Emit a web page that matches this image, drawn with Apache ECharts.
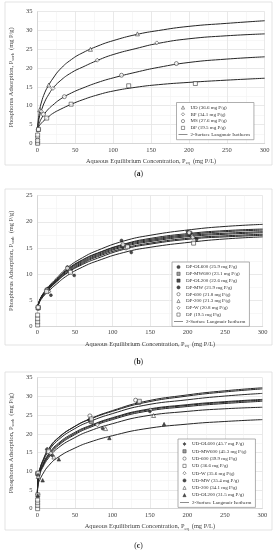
<!DOCTYPE html>
<html><head><meta charset="utf-8">
<script src="https://cdn.jsdelivr.net/npm/echarts@6/dist/echarts.min.js"></script>
<style>
body{margin:0;background:#fff;width:277px;height:550px;overflow:hidden;position:relative}
.p{position:absolute;left:0;width:277px}
</style></head>
<body>
<div id="pa" class="p" style="top:0;height:178px"></div>
<div id="pb" class="p" style="top:178px;height:188px"></div>
<div id="pc" class="p" style="top:366px;height:184px"></div>
<script>
// ---------- Panel (a) ----------
const aCurveX = [0,1,3,5,10,15,20,30,45,60,80,100,130,160,200,250,300];
const aCurveUD = [3.7,6.0,8.8,10.7,13.6,15.5,17.1,19.7,22.3,24.1,25.9,27.3,28.9,30.0,31.1,31.9,32.6];
const aCurveBP = [3.7,5.2,7.3,8.6,11.2,13.0,14.5,16.6,18.8,20.3,22.1,23.6,25.2,26.6,27.8,28.6,29.1];
const aCurveMS = [3.7,4.4,5.6,6.5,8.0,9.2,10.1,11.7,13.4,14.7,16.2,17.4,18.9,20.2,21.5,22.4,23.0];
const aCurveDP = [3.7,4.1,4.8,5.3,6.3,7.1,7.9,9.0,10.4,11.6,12.9,13.9,14.9,15.6,16.2,16.8,17.3];
const aPtsUD = [[0.3,0.3],[1,3.7],[3,8.9],[15,15.5],[70,25.0],[132,29.1]];
const aPtsBP = [[0.3,1.0],[1.5,3.8],[5,8.5],[20.5,14.6],[79,22.1],[157.6,26.7]];
const aPtsMS = [[0.3,1.6],[1,3.6],[8,7.7],[35.6,12.4],[111,18.1],[183.4,21.2]];
const aPtsDP = [[0.3,0],[0.3,0.7],[0.3,2.2],[1.5,3.7],[12.3,6.7],[44.5,10.4],[120.5,15.3],[208.5,15.9]];
const aNames = ['UD (36.6 mg P/g)','BP (34.1 mg P/g)','MS (27.6 mg P/g)','DP (19.5 mg P/g)'];

// ---------- Panel (b) ----------
const bCurveX = [0,2,5,10,15,25,40,60,80,115,150,205,250,300];
const bCurveOL600 = [3.6,4.6,5.6,6.7,7.6,9.1,11.2,13.1,14.5,16.3,17.4,18.5,19.1,19.5];
const bCurveMW600 = [3.6,4.5,5.5,6.6,7.4,8.9,10.9,12.7,14.0,15.7,16.8,17.8,18.3,18.6];
const bCurveOL200 = [3.6,4.5,5.5,6.5,7.3,8.8,10.8,12.6,13.9,15.6,16.6,17.6,18.1,18.4];
const bCurveMW    = [3.6,4.3,5.1,6.0,6.7,8.0,9.7,11.3,12.5,14.1,15.1,16.1,16.7,17.1];
const bCurve600   = [3.6,4.5,5.5,6.5,7.3,8.7,10.7,12.4,13.7,15.4,16.4,17.4,17.8,18.1];
const bCurve200   = [3.6,4.5,5.4,6.4,7.2,8.6,10.5,12.2,13.5,15.2,16.2,17.2,17.6,17.9];
const bCurveW     = [3.6,4.4,5.4,6.3,7.1,8.5,10.3,12.0,13.3,14.9,15.9,16.9,17.3,17.6];
const bCurveDP    = [3.6,4.4,5.3,6.2,7.0,8.4,10.2,11.8,13.0,14.7,15.7,16.7,17.1,17.4];
const bPtsOL600 = [[0.5,3.6],[14,7.2],[40,11.3],[112,16.4],[200,18.1]];
const bPtsMW600 = [[1,3.5],[13,6.9],[42,10.9],[116,15.4],[203,17.8]];
const bPtsOL200 = [[1,3.4],[15,6.8],[41,10.8],[114,15.3],[205,17.6]];
const bPtsMW    = [[1,3.3],[18,5.9],[49,9.7],[125,14.1],[212,16.6]];
const bPts600   = [[1,3.6],[13,6.9],[40,11.1],[114,15.6],[202,17.9]];
const bPts200   = [[1,3.5],[14,6.8],[43,10.7],[117,15.1],[206,17.4]];
const bPtsW     = [[1,3.5],[15,6.6],[44,10.5],[118,14.9],[207,17.0]];
const bPtsDP    = [[0.3,0.2],[0.3,0.8],[0.3,1.4],[0.3,2.1],[1,3.6],[12,6.6],[44,10.3],[120,15.2],[208,15.9]];
const bNames = ['DP-OL600 (25.9 mg P/g)','DP-MW600 (23.1 mg P/g)','DP-OL200 (22.6 mg P/g)','DP-MW (21.9 mg P/g)',
                'DP-600 (21.8 mg P/g)','DP-200 (21.3 mg P/g)','DP-W (20.8 mg P/g)','DP (19.5 mg P/g)'];

// ---------- Panel (c) ----------
const cCurveX = [0,1,3,7,15,28,50,70,100,142,200,250,300];
const cCurveOL600 = [3.8,8.5,10.3,12.6,15.8,18.9,22.0,24.0,26.2,28.6,30.4,31.5,32.3];
const cCurveMW600 = [3.8,8.8,10.5,12.8,16.0,19.0,22.0,23.9,26.0,28.3,30.1,31.2,32.0];
const cCurve600   = [3.8,8.6,10.2,12.4,15.4,18.4,21.4,23.3,25.4,27.6,29.1,30.1,30.8];
const cCurveUD    = [3.8,8.3,9.8,11.8,14.6,17.5,20.4,22.2,24.3,26.4,27.8,28.6,29.2];
const cCurveW     = [3.8,8.2,9.6,11.4,14.0,16.9,19.8,21.7,23.8,25.9,27.3,28.1,28.7];
const cCurveMW    = [3.8,8.0,9.5,11.5,14.3,17.2,20.1,22.0,24.1,26.2,27.6,28.4,29.0];
const cCurve200   = [3.8,7.8,9.2,11.0,13.6,16.3,19.0,20.8,22.7,24.7,26.0,26.7,27.1];
const cCurveOL200 = [3.8,6.5,7.6,9.2,11.5,13.8,16.2,17.8,19.5,21.3,22.6,23.3,23.8];
const cPtsOL600 = [[0.5,3.8],[1,9.6],[13,15.9],[69,23.7],[134,28.5]];
const cPtsMW600 = [[0.5,9.4],[14,15.3],[72,23.3],[135,28.4]];
const cPts600   = [[0.5,9.2],[15,15.6],[70,24.8],[131,29.0]];
const cPtsUD    = [[0.3,0.0],[0.3,0.9],[0.3,1.6],[0.3,2.3],[0.5,3.7],[1,9.5],[15,15.2],[72,24.0],[136,28.7]];
const cPtsW     = [[1,9.0],[18,14.8],[80,22.4],[151,26.4]];
const cPtsMW    = [[1,8.8],[20,14.2],[87,21.4],[150,26.0]];
const cPts200   = [[1,8.6],[22,13.8],[91,21.4],[155,24.9]];
const cPtsOL200 = [[0.5,3.5],[7,7.6],[28.6,13.2],[96,18.9],[169,22.6]];
const cNames = ['UD-OL600 (45.7 mg P/g)','UD-MW600 (45.3 mg P/g)','UD-600 (39.9 mg P/g)','UD (36.6 mg P/g)',
                'UD-W (35.6 mg P/g)','UD-MW (35.4 mg P/g)','UD-200 (34.1 mg P/g)','UD-OL200 (31.5 mg P/g)'];

const isoName = '2-Surface Langmuir Isotherm';
const xTitle = 'Aqueous Equilibrium Concentration, P{s|eq}  (mg P/L)';
const yTitle = 'Phosphorus Adsorption, P{s|sorb}  (mg P/g)';

const FONT = '"Liberation Serif", "DejaVu Serif", serif';
const TXT = '#404040';

const ICONS = {
  triangle: 'path://M5,0L10,10L0,10Z',
  diamond: 'path://M5,0L10,5L5,10L0,5Z',
  rect: 'path://M0,0L10,0L10,10L0,10Z',
  circle: 'path://M5,0A5,5,0,1,1,4.99,0Z'
};
const LINE_ICON = 'path://M0,0L40,0L40,2.2L0,2.2Z';

function markerStyle(kind) {
  const [sym, filled, size, mid] = kind;
  return {
    type: 'scatter', symbol: sym, symbolSize: size, z: 5,
    itemStyle: {
      color: filled ? '#1f1f1f' : (mid ? '#8a8a8a' : '#ffffff'),
      borderColor: '#2a2a2a', borderWidth: 0.7
    }
  };
}

function buildPanel(el, cfg) {
  const chart = echarts.init(document.getElementById(el), null, {renderer: 'canvas'});
  const series = [];
  cfg.curves.forEach(function (ys) {
    series.push({
      type: 'line', name: isoName, data: cfg.curveX.map(function (x, i) { return [x, ys[i]]; }),
      symbol: 'none', smooth: 0.5, z: 3,
      lineStyle: {color: '#262626', width: 1.0}, itemStyle: {color: '#262626'}
    });
  });
  cfg.points.forEach(function (pts, i) {
    const s = markerStyle(cfg.markers[i]);
    s.name = cfg.names[i];
    s.data = pts;
    series.push(s);
  });
  const legendData = cfg.names.map(function (n, i) {
    const m = cfg.markers[i];
    return {name: n, icon: ICONS[m[0]],
      itemStyle: {color: m[1] ? '#1f1f1f' : (m[3] ? '#8a8a8a' : '#ffffff'), borderColor: '#2a2a2a', borderWidth: 0.6}};
  });
  legendData.push({name: isoName, icon: LINE_ICON, itemStyle: {color: '#1a1a1a', borderWidth: 0}});
  const axisCommon = {
    axisLine: {show: true, lineStyle: {color: '#d0d0d0', width: 0.8}},
    axisTick: {show: false},
    splitLine: {show: true, lineStyle: {color: '#e3e3e3', width: 0.8}},
    minorTick: {show: false, splitNumber: 2},
    minorSplitLine: {show: true, lineStyle: {color: '#f1f1f1', width: 0.6}},
    axisLabel: {fontFamily: FONT, fontSize: 6.5, color: TXT},
    nameLocation: 'middle',
    nameTextStyle: {fontFamily: FONT, fontSize: 6.4, color: TXT,
      rich: {s: {fontFamily: FONT, fontSize: 4.4, color: TXT, padding: [4, 0, 0, 0]}}}
  };
  const option = {
    animation: false,
    backgroundColor: '#ffffff',
    grid: {left: cfg.grid[0], top: cfg.grid[1], width: cfg.grid[2], height: cfg.grid[3], containLabel: false},
    xAxis: Object.assign({}, axisCommon, {
      type: 'value', min: 0, max: 300, interval: 50, name: xTitle, nameGap: 12,
      axisLabel: Object.assign({}, axisCommon.axisLabel, {margin: 3})
    }),
    yAxis: Object.assign({}, axisCommon, {
      type: 'value', min: 0, max: cfg.yMax, interval: 5, name: yTitle, nameGap: 14,
      axisLabel: Object.assign({}, axisCommon.axisLabel, {margin: 5})
    }),
    legend: {
      orient: 'vertical', left: cfg.legend[0], top: cfg.legend[1],
      itemWidth: 9, itemHeight: 3.2, itemGap: cfg.legend[2], symbolKeepAspect: true,
      padding: [2, 4, 2, 2], borderColor: '#8c8c8c', borderWidth: 0.7, backgroundColor: '#ffffff',
      textStyle: {fontFamily: FONT, fontSize: 5, color: '#333', lineHeight: 6, padding: [0, 0, 0, -2]},
      data: legendData
    },
    graphic: [
      {type: 'rect', shape: cfg.border, style: {fill: 'none', stroke: '#dcdcdc', lineWidth: 0.8}, silent: true, z: -10},
      {type: 'text', x: 138.5, y: cfg.labelY, style: {text: '({b|' + cfg.label + '})', fontFamily: FONT, fontSize: 7.5,
        fill: '#222', align: 'center', verticalAlign: 'middle',
        rich: {b: {fontFamily: FONT, fontSize: 7.5, fontWeight: 'bold', fill: '#222'}}}}
    ],
    series: series
  };
  chart.setOption(option);
}

buildPanel('pa', {
  grid: [28.7, 11.7, 236, 131.6], yMax: 35,
  curveX: aCurveX, curves: [aCurveUD, aCurveBP, aCurveMS, aCurveDP],
  points: [aPtsUD, aPtsBP, aPtsMS, aPtsDP], names: aNames,
  markers: [['triangle', false, 4], ['diamond', false, 4], ['circle', false, 4], ['rect', false, 4]],
  legend: [176.5, 102.5, 0.8], border: {x: 5, y: 2, width: 267, height: 163},
  label: 'a', labelY: 174
});

buildPanel('pb', {
  grid: [29.3, 17.7, 233.4, 130.3], yMax: 25,
  curveX: bCurveX, curves: [bCurveOL600, bCurveMW600, bCurveOL200, bCurveMW, bCurve600, bCurve200, bCurveW, bCurveDP],
  points: [bPtsOL600, bPtsMW600, bPtsOL200, bPtsMW, bPts600, bPts200, bPtsW, bPtsDP], names: bNames,
  markers: [['circle', true, 3], ['rect', false, 4, true], ['rect', true, 2.6], ['circle', true, 2.8],
            ['circle', false, 4], ['triangle', false, 4], ['diamond', false, 4], ['rect', false, 4]],
  legend: [172, 84, 0.8], border: {x: 5, y: 11, width: 267, height: 156},
  label: 'b', labelY: 184
});

buildPanel('pc', {
  grid: [29.3, 11.7, 233, 131], yMax: 35,
  curveX: cCurveX, curves: [cCurveOL600, cCurveMW600, cCurve600, cCurveUD, cCurveW, cCurveMW, cCurve200, cCurveOL200],
  points: [cPtsOL600, cPtsMW600, cPts600, cPtsUD, cPtsW, cPtsMW, cPts200, cPtsOL200], names: cNames,
  markers: [['diamond', true, 4], ['rect', false, 4, true], ['circle', false, 4], ['rect', false, 4],
            ['diamond', false, 4], ['circle', true, 2.8], ['triangle', false, 4], ['triangle', true, 3.5]],
  legend: [178, 73, 1.3], border: {x: 5, y: 6, width: 267, height: 158},
  label: 'c', labelY: 180
});
</script>
</body></html>
